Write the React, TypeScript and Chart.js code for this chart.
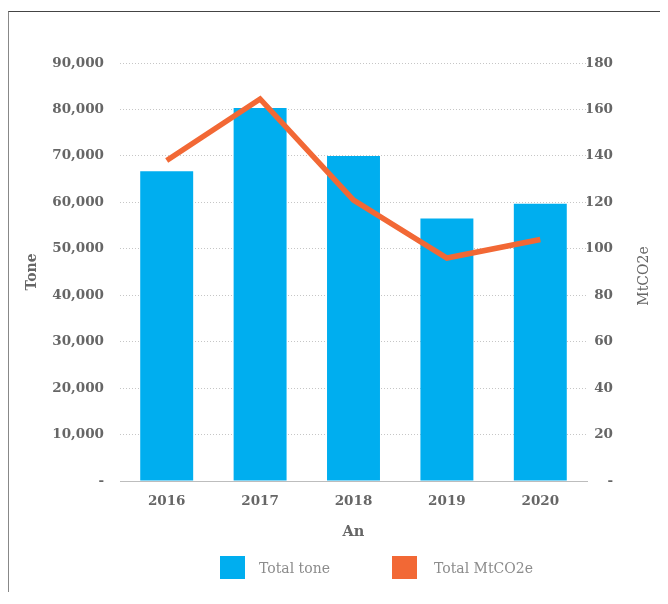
import React, { useEffect, useRef } from "react";
import { Chart, registerables } from "chart.js";

Chart.register(...registerables);

const years = ["2016", "2017", "2018", "2019", "2020"];
const totalTone = [66700, 80300, 70000, 56500, 59700];
const totalMtCO2e = [138, 164.5, 121, 96, 104];
const seriesNames = ["Total tone", "Total MtCO2e"];
const seriesColors = ["#00AEEF", "#F26835"];
const leftTitle = "Tone";
const rightTitle = "MtCO2e";
const xTitle = "An";

const FONT = "'DejaVu Serif', serif";
const TICK_COLOR = "#666666";

const rightTitlePlugin = {
  id: "rightTitle",
  afterDraw(chart: any) {
    const s = chart.scales.y1;
    const ca = chart.chartArea;
    const ctx = chart.ctx;
    ctx.save();
    ctx.translate(s.right + 31, (ca.top + ca.bottom) / 2 + 4);
    ctx.rotate(-Math.PI / 2);
    ctx.textAlign = "center";
    ctx.textBaseline = "middle";
    ctx.fillStyle = TICK_COLOR;
    ctx.font = `14px ${FONT}`;
    ctx.fillText(rightTitle, 0, 0);
    ctx.restore();
  },
};

export default function App() {
  const ref = useRef<HTMLCanvasElement | null>(null);
  useEffect(() => {
    if (!ref.current) return;
    const chart = new Chart(ref.current, {
      type: "bar",
      data: {
        labels: years,
        datasets: [
          {
            type: "line",
            label: seriesNames[1],
            data: totalMtCO2e,
            yAxisID: "y1",
            borderColor: seriesColors[1],
            backgroundColor: seriesColors[1],
            borderWidth: 5.5,
            pointRadius: 0,
            pointHoverRadius: 0,
            tension: 0,
            borderJoinStyle: "miter",
            order: 1,
          } as any,
          {
            type: "bar",
            label: seriesNames[0],
            data: totalTone,
            yAxisID: "y",
            backgroundColor: seriesColors[0],
            barPercentage: 0.567,
            categoryPercentage: 1,
            order: 2,
          },
        ],
      },
      options: {
        responsive: false,
        animation: false,
        devicePixelRatio: 1,
        layout: { padding: { top: 51, left: 0, right: 54, bottom: 47 } },
        plugins: { legend: { display: false }, tooltip: { enabled: false } },
        scales: {
          x: {
            grid: { display: false, drawTicks: false },
            border: { display: true, color: "#bdbdbd", width: 1 },
            ticks: {
              color: TICK_COLOR,
              font: { family: FONT, size: 13.5, weight: "bold" },
              padding: 12,
            },
            title: {
              display: true,
              text: xTitle,
              color: TICK_COLOR,
              font: { family: FONT, size: 14.5, weight: "bold" },
              padding: 4,
            },
            afterFit: (s: any) => {
              s.height = 64;
            },
          },
          y: {
            position: "left",
            min: 0,
            max: 90000,
            ticks: {
              stepSize: 10000,
              color: TICK_COLOR,
              font: { family: FONT, size: 13.5, weight: "bold" },
              padding: 16,
              callback: (v: any) => (v === 0 ? "-" : Number(v).toLocaleString("en-US")),
            },
            grid: {
              drawTicks: false,
              color: (c: any) => (c.tick && c.tick.value === 0 ? "rgba(0,0,0,0)" : "#c6c6c6"),
              lineWidth: 1,
            },
            border: { display: false, dash: [1, 2] },
            title: {
              display: true,
              text: leftTitle,
              color: TICK_COLOR,
              font: { family: FONT, size: 14, weight: "bold" },
              padding: 15,
            },
            afterFit: (s: any) => {
              s.width = 111;
            },
          },
          y1: {
            position: "right",
            min: 0,
            max: 180,
            ticks: {
              stepSize: 20,
              color: TICK_COLOR,
              font: { family: FONT, size: 13.5, weight: "bold" },
              crossAlign: "far",
              callback: (v: any) => (v === 0 ? "-" : String(v)),
            },
            grid: { display: false, drawTicks: false },
            border: { display: false },
            afterFit: (s: any) => {
              s.width = 26;
            },
          },
        },
      },
      plugins: [rightTitlePlugin],
    });
    return () => chart.destroy();
  }, []);

  return (
    <div
      style={{
        position: "relative",
        marginTop: 3,
        width: 660,
        height: 581,
        boxSizing: "border-box",
        borderTop: "1px solid #444",
        borderLeft: "1px solid #888",
        borderRight: "1px solid #888",
        fontFamily: FONT,
      }}
    >
      <canvas ref={ref} width={658} height={580} style={{ display: "block", width: 658, height: 580 }} />
      {seriesNames.map((name, i) => (
        <div
          key={name}
          style={{
            position: "absolute",
            left: i === 0 ? 211 : 383,
            top: 544,
            display: "flex",
            alignItems: "center",
            height: 23,
          }}
        >
          <span style={{ display: "inline-block", width: 25, height: 23, background: seriesColors[i] }} />
          <span style={{ marginLeft: i === 0 ? 14 : 17, fontSize: 14, color: "#8c8c8c", whiteSpace: "nowrap" }}>{name}</span>
        </div>
      ))}
    </div>
  );
}
